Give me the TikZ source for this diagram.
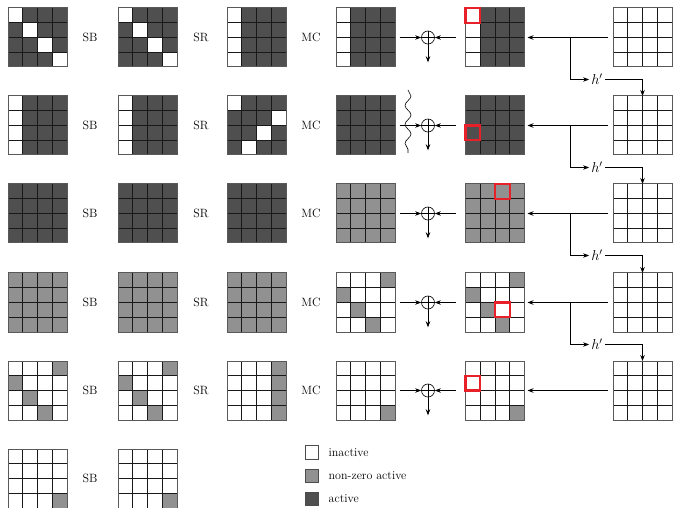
\documentclass[tikz,border=0pt]{standalone}
\usepackage{tikz}
\usetikzlibrary{positioning,arrows.meta,calc,decorations.pathmorphing}

\definecolor{activegray}{HTML}{4F4F4F}
\definecolor{nzgray}{HTML}{919191}
\definecolor{markred}{HTML}{E8202A}

\newcommand{\cellsz}{14.75pt}
\newcommand{\allW}{w,w,w,w,w,w,w,w,w,w,w,w,w,w,w,w}
\newcommand{\allG}{g,g,g,g,g,g,g,g,g,g,g,g,g,g,g,g}
\newcommand{\allD}{d,d,d,d,d,d,d,d,d,d,d,d,d,d,d,d}
\newcommand{\diagW}{w,d,d,d,d,w,d,d,d,d,w,d,d,d,d,w}
\newcommand{\colW}{w,d,d,d,w,d,d,d,w,d,d,d,w,d,d,d}
\newcommand{\diagG}{w,w,w,g,g,w,w,w,w,g,w,w,w,w,g,w}
\newcommand{\lastG}{w,w,w,w,w,w,w,w,w,w,w,w,w,w,w,g}

% 4x4 state: name, left, top, cell list (w/g/d)
\newcommand{\statebox}[4]{%
  \node[gridbox] (#1) at (#2,#3) {};
  \edef\celllist{#4}%
  \foreach \f [count=\i from 0] in \celllist {%
    \pgfmathtruncatemacro{\cc}{mod(\i,4)}%
    \pgfmathtruncatemacro{\rr}{div(\i,4)}%
    \fill[cell\f] ($(#1.north west)+(\cc*\cellsz,-\rr*\cellsz)$) rectangle +(\cellsz,-\cellsz);
  }%
  \foreach \k in {1,2,3} {%
    \draw[gridline] ($(#1.north west)+(\k*\cellsz,0)$) -- ($(#1.south west)+(\k*\cellsz,0)$);
    \draw[gridline] ($(#1.north west)+(0,-\k*\cellsz)$) -- ($(#1.north east)+(0,-\k*\cellsz)$);
  }%
  \draw[gridframe] (#1.north west) rectangle (#1.south east);
}
% red mark: state, column, row
\newcommand{\markcell}[3]{%
  \draw[redmark] ($(#1.north west)+(#2*\cellsz,-#3*\cellsz)$) rectangle +(\cellsz,-\cellsz);
}

\begin{document}
\begin{tikzpicture}[
    x=1pt, y=-1pt,
    font=\fontsize{12}{14.4}\selectfont,
    gridbox/.style={anchor=north west, minimum size=59pt, inner sep=0pt, outer sep=0pt},
    cellw/.style={fill=white},
    cellg/.style={fill=nzgray},
    celld/.style={fill=activegray},
    gridline/.style={draw=black!90, line width=0.8pt},
    gridframe/.style={draw=black!65, line width=1pt},
    redmark/.style={draw=markred, line width=2.4pt},
    oplus/.style={circle, draw, line width=0.6pt, minimum size=13pt, inner sep=0pt,
      path picture={\draw[line width=0.6pt] (path picture bounding box.north) -- (path picture bounding box.south)
        (path picture bounding box.west) -- (path picture bounding box.east);}},
    arrow/.style={-{Stealth[length=6pt,width=4.5pt]}, line width=0.7pt},
    hlabel/.style={inner sep=2pt, font=\fontsize{14}{16}\selectfont},
    wavy/.style={decorate, decoration={snake, amplitude=3pt, segment length=19pt}, line width=0.6pt},
    legendbox/.style={draw=black!70, line width=0.8pt, minimum size=13.5pt, inner sep=0pt}
]
\useasboundingbox (0,0) rectangle (673,508);

% row 1
\statebox{g11}{8}{8}{\diagW}
\statebox{g12}{118}{8}{\diagW}
\statebox{g13}{227}{8}{\colW}
\statebox{g14}{336}{8}{\colW}
\statebox{g15}{465.5}{8}{\colW}
\statebox{k1}{613}{8}{\allW}
\markcell{g15}{0}{0}

% row 2
\statebox{g21}{8}{96}{\colW}
\statebox{g22}{118}{96}{\colW}
\statebox{g23}{227}{96}{w,d,d,d,d,d,d,w,d,d,w,d,d,w,d,d}
\statebox{g24}{336}{96}{\allD}
\statebox{g25}{465.5}{96}{\allD}
\statebox{k2}{613}{96}{\allW}
\markcell{g25}{0}{2}

% row 3
\statebox{g31}{8}{184}{\allD}
\statebox{g32}{118}{184}{\allD}
\statebox{g33}{227}{184}{\allD}
\statebox{g34}{336}{184}{\allG}
\statebox{g35}{465.5}{184}{\allG}
\statebox{k3}{613}{184}{\allW}
\markcell{g35}{2}{0}

% row 4
\statebox{g41}{8}{273}{\allG}
\statebox{g42}{118}{273}{\allG}
\statebox{g43}{227}{273}{\allG}
\statebox{g44}{336}{273}{\diagG}
\statebox{g45}{465.5}{273}{\diagG}
\statebox{k4}{613}{273}{\allW}
\markcell{g45}{2}{2}

% row 5
\statebox{g51}{8}{361}{\diagG}
\statebox{g52}{118}{361}{\diagG}
\statebox{g53}{227}{361}{w,w,w,g,w,w,w,g,w,w,w,g,w,w,w,g}
\statebox{g54}{336}{361}{\lastG}
\statebox{g55}{465.5}{361}{\lastG}
\statebox{k5}{613}{361}{\allW}
\markcell{g55}{0}{1}

% row 6
\statebox{g61}{8}{449}{\lastG}
\statebox{g62}{118}{449}{\lastG}

% round labels and key addition
\foreach \r/\y in {1/37.5,2/125.5,3/213.5,4/302.5,5/390.5} {
  \node (sb\r) at (90,\y) {SB};
  \node (sr\r) at (201,\y) {SR};
  \node (mc\r) at (311,\y) {MC};
  \node[oplus] (x\r) at (428,\y) {};
  \draw[arrow, shorten <=4.5pt] (g\r4.east) -- (x\r.west);
  \draw[arrow, shorten <=10pt] (g\r5.west) -- (x\r.east);
  \draw[arrow] (x\r.south) -- ++(0,18);
  \draw[arrow, shorten <=5pt, shorten >=3pt] (k\r.west) -- (g\r5.east);
}
\node (sb6) at (90,478.5) {SB};

% key schedule
\foreach \r/\n/\y in {1/2/37.5,2/3/125.5,3/4/213.5,4/5/302.5} {
  \coordinate (b\r) at (570,\y);
  \node[hlabel] (h\r) at (597,\y+42) {$h'$};
  \draw[arrow] (b\r) |- (h\r.west);
  \draw[arrow] (h\r.east) -| (k\n.north);
}

\draw[wavy] (408,90) -- (408,153);

% legend
\node[legendbox, fill=white] (lw) at (312,452.5) {};
\node[legendbox, fill=nzgray] (lg) at (312,476) {};
\node[legendbox, fill=activegray] (ld) at (312,499) {};
\node[anchor=west] at ([xshift=6pt]lw.east) {inactive};
\node[anchor=west] at ([xshift=6pt]lg.east) {non-zero active};
\node[anchor=west] at ([xshift=6pt]ld.east) {active};
\end{tikzpicture}
\end{document}
